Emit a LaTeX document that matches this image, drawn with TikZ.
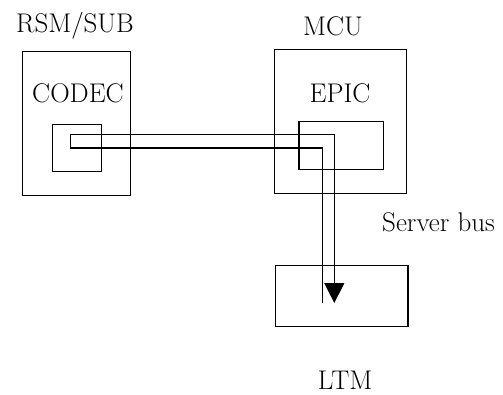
\documentclass[tikz,border=0pt]{standalone}
\usetikzlibrary{arrows.meta}
\begin{document}
\begin{tikzpicture}[x=1pt,y=-1pt,
  box/.style={draw,line width=1.4pt,inner sep=0pt},
  lbl/.style={inner sep=0pt,font=\fontsize{27}{32}\selectfont},
  bus/.style={line width=1.4pt}]
\useasboundingbox (0,0) rectangle (503,394);
\node[box,minimum width=108pt,minimum height=144pt] (rsm) at (76.7,123.7) {};
\node[box,minimum width=49pt,minimum height=47.4pt] (codec) at (77.2,148) {};
\node[box,minimum width=132pt,minimum height=144pt] (mcu) at (340.7,121.3) {};
\node[box,minimum width=84.3pt,minimum height=47.6pt] (epic) at (341.2,145.5) {};
\node[box,minimum width=132.7pt,minimum height=61pt] (ltm) at (341.7,296.2) {};
\node[lbl] (rsmlbl) at (75,26) {RSM/SUB};
\node[lbl] (mculbl) at (333,26) {MCU};
\node[lbl] (codeclbl) at (78,93) {CODEC};
\node[lbl] (epiclbl) at (340,93) {EPIC};
\node[lbl,anchor=west] (buslbl) at (382,222) {Server bus};
\node[lbl] (ltmlbl) at (345,380) {LTM};
\coordinate (a) at (322.3,303);
\coordinate (b) at (334.3,303);
\draw[bus,-{Triangle[length=20pt,width=20pt]}] (a) -- (a |- codec.center) -- ([xshift=-6.5pt]codec.center |- codec.center) -- ++(0,-13.5) -- (b |- 0,134.5) -- (b);
\end{tikzpicture}
\end{document}
